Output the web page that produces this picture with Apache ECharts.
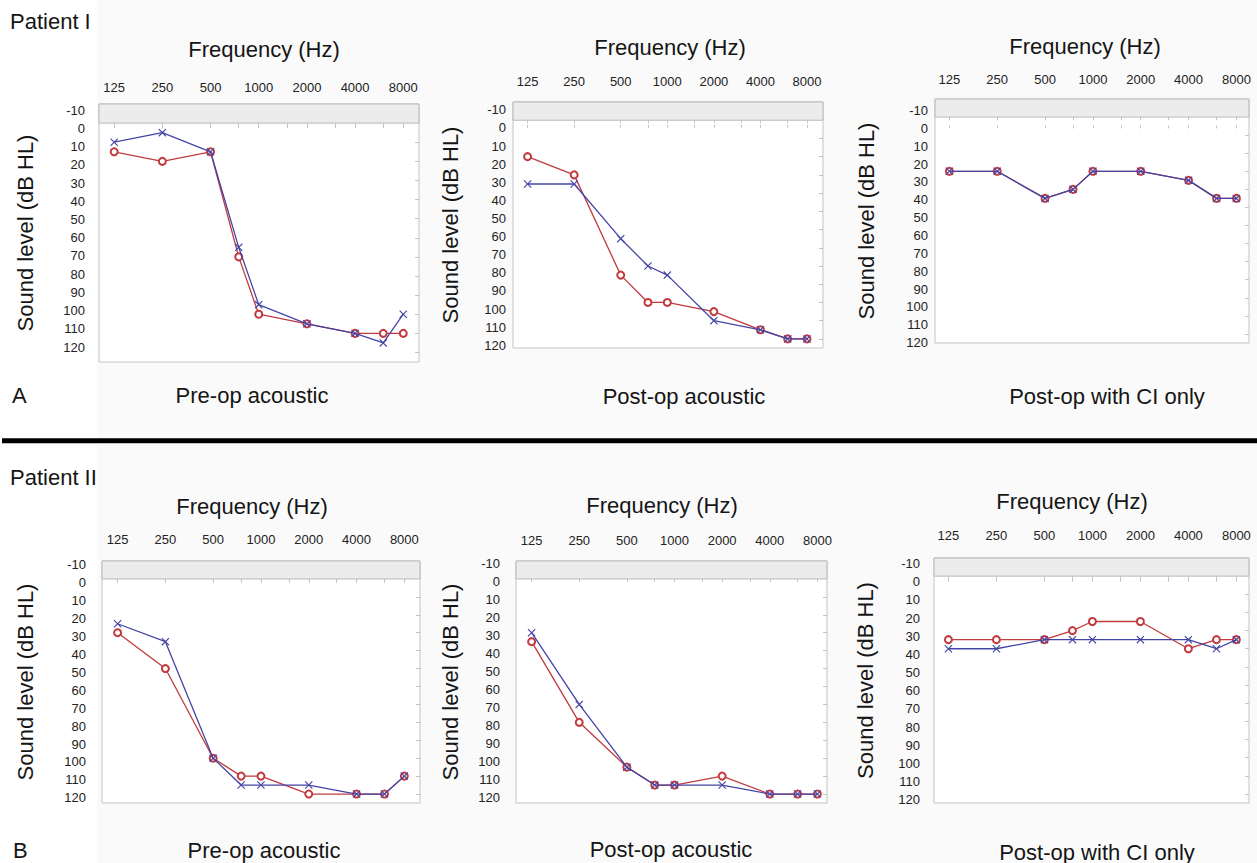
<!DOCTYPE html>
<html>
<head>
<meta charset="utf-8">
<script src="https://cdn.jsdelivr.net/npm/echarts@6/dist/echarts.min.js"></script>
<style>
html,body{margin:0;padding:0;background:#fff;}
#chart{width:1257px;height:863px;}
</style>
</head>
<body>
<div id="chart"></div>
<script>
// ---------- DATA ----------
const frequencies = [125, 250, 500, 750, 1000, 2000, 4000, 6000, 8000];
const frequencyTickLabels = [125, 250, 500, 1000, 2000, 4000, 8000];
const frequencyTickMarks = [125, 250, 500, 750, 1000, 1500, 2000, 3000, 4000, 6000, 8000];
const levelTickLabels = [-10, 0, 10, 20, 30, 40, 50, 60, 70, 80, 90, 100, 110, 120];
const levelTickMarks = [10, 20, 30, 40, 50, 60, 70, 80, 90, 100, 110, 120];
const patientNames = ['Patient I', 'Patient II'];
const rowLetters = ['A', 'B'];
const panelTitles = ['Pre-op acoustic', 'Post-op acoustic', 'Post-op with CI only',
                     'Pre-op acoustic', 'Post-op acoustic', 'Post-op with CI only'];
const xAxisTitle = 'Frequency (Hz)';
const yAxisTitle = 'Sound level (dB HL)';

// Patient I
const p1PreOpRed   = [15, 20, 15, 70, 100, 105, 110, 110, 110];
const p1PreOpBlue  = [10, 5, 15, 65, 95, 105, 110, 115, 100];
const p1PostOpRed  = [20, 30, 85, 100, 100, 105, 115, 120, 120];
const p1PostOpBlue = [35, 35, 65, 80, 85, 110, 115, 120, 120];
const p1CIRed      = [30, 30, 45, 40, 30, 30, 35, 45, 45];
const p1CIBlue     = [30, 30, 45, 40, 30, 30, 35, 45, 45];
// Patient II
const p2PreOpRed   = [30, 50, 100, 110, 110, 120, 120, 120, 110];
const p2PreOpBlue  = [25, 35, 100, 115, 115, 115, 120, 120, 110];
const p2PostOpRed  = [35, 80, 105, 115, 115, 110, 120, 120, 120];
const p2PostOpBlue = [30, 70, 105, 115, 115, 115, 120, 120, 120];
const p2CIRed      = [35, 35, 35, 30, 25, 25, 40, 35, 35];
const p2CIBlue     = [40, 40, 35, 35, 35, 35, 35, 40, 35];

const panelRed  = [p1PreOpRed, p1PostOpRed, p1CIRed, p2PreOpRed, p2PostOpRed, p2CIRed];
const panelBlue = [p1PreOpBlue, p1PostOpBlue, p1CIBlue, p2PreOpBlue, p2PostOpBlue, p2CIBlue];

// ---------- LAYOUT (positions / sizes only) ----------
const layout = [
  {grid:[99,104,320,258],  x:[100.5,10030], lab:[-13.3,128.1], labMargin:14, topMargin:10, nameGap:63, freq:[264,49],   sub:[252,395]},
  {grid:[513,102,310,246], x:[100.6,10150], lab:[-14.3,121.5], labMargin:7,  topMargin:14, nameGap:52, freq:[670,47],   sub:[684,396]},
  {grid:[935,99,314,244],  x:[101.5,9600],  lab:[-16.5,120.2], labMargin:7,  topMargin:13, nameGap:58, freq:[1085,46],  sub:[1107,396]},
  {grid:[102,561,318,242], x:[99.7,10040],  lab:[-12.2,122.9], labMargin:16, topMargin:15, nameGap:66, freq:[252,506],  sub:[264,850]},
  {grid:[516,561,311,242], x:[99.6,9200],   lab:[-11.4,122.8], labMargin:16, topMargin:14, nameGap:55, freq:[662,505],  sub:[671,849]},
  {grid:[934,558,315,245], x:[101.5,9600],  lab:[-13.1,121.8], labMargin:14, topMargin:16, nameGap:58, freq:[1072,501], sub:[1097,852]}
];
const rowLabelPos = [[10,21],[10,477]];
const letterPos = [[12,395],[13,850]];

// ---------- STYLE ----------
const RED = '#c23a3e';
const BLUE = '#4444a6';
const FRAME = '#c4c4c4';
const TEXT = '#151515';
const FONT = '"Liberation Sans", Arial, Helvetica, sans-serif';
const BIG = 22;
const X_PATH = 'path://M1,0L5,4L9,0L10,1L6,5L10,9L9,10L5,6L1,10L0,9L4,5L0,1Z';

const chart = echarts.init(document.getElementById('chart'), null, {renderer:'svg', width:1257, height:863});

const grids = [], xAxes = [], yAxes = [], series = [], titles = [];

function bigTitle(text, x, y, align) {
  return {
    text: text, left: x, top: y, padding: 0,
    textAlign: align || 'center', textVerticalAlign: 'middle',
    textStyle: {fontSize: BIG, fontWeight: 'normal', color: TEXT, fontFamily: FONT}
  };
}

patientNames.forEach((n, r) => titles.push(bigTitle(n, rowLabelPos[r][0], rowLabelPos[r][1], 'left')));
rowLetters.forEach((n, r) => titles.push(bigTitle(n, letterPos[r][0], letterPos[r][1], 'left')));

layout.forEach((L, i) => {
  grids.push({
    left: L.grid[0], top: L.grid[1], width: L.grid[2], height: L.grid[3],
    show: true, backgroundColor: '#ffffff', borderColor: FRAME, borderWidth: 1,
    containLabel: false, outerBoundsMode: 'none'
  });
  const tickCommon = {show: true, inside: true, length: 3, customValues: frequencyTickMarks, lineStyle: {color: FRAME}};
  xAxes.push({
    gridIndex: i, type: 'log', logBase: 2, position: 'top', min: L.x[0], max: L.x[1],
    axisLine: {show: false}, splitLine: {show: false}, axisTick: tickCommon,
    axisLabel: {show: true, customValues: frequencyTickLabels, margin: L.topMargin,
      fontSize: 13, color: '#222', fontFamily: FONT, formatter: v => String(Math.round(v))}
  });
  xAxes.push({
    gridIndex: i, type: 'log', logBase: 2, position: 'bottom', min: L.x[0], max: L.x[1],
    axisLine: {show: false}, splitLine: {show: false}, axisTick: tickCommon,
    axisLabel: {show: false}
  });
  yAxes.push({
    gridIndex: i, type: 'value', inverse: true, position: 'right', min: -10, max: 125,
    axisLine: {show: false}, splitLine: {show: false}, axisLabel: {show: false},
    axisTick: {show: true, inside: true, length: 4, customValues: levelTickMarks, lineStyle: {color: FRAME}}
  });
  yAxes.push({
    gridIndex: i, type: 'value', inverse: true, position: 'left', min: L.lab[0], max: L.lab[1],
    axisLine: {show: false}, splitLine: {show: false}, axisTick: {show: false},
    axisLabel: {customValues: levelTickLabels, margin: L.labMargin, fontSize: 13, color: '#222', fontFamily: FONT},
    name: yAxisTitle, nameLocation: 'middle', nameRotate: 90, nameGap: L.nameGap,
    nameTextStyle: {fontSize: BIG, color: TEXT, fontFamily: FONT}
  });
  series.push({
    type: 'line', xAxisIndex: 2 * i, yAxisIndex: 2 * i, z: 3,
    data: frequencies.map((f, k) => [f, panelRed[i][k]]),
    symbol: 'emptyCircle', symbolSize: 7, showAllSymbol: true,
    lineStyle: {color: RED, width: 1.3},
    itemStyle: {color: RED, borderColor: RED, borderWidth: 1.1},
    emphasis: {disabled: true},
    markArea: {silent: true, itemStyle: {color: '#ececec', borderColor: '#b9b9b9', borderWidth: 1},
      data: [[{yAxis: -10}, {yAxis: 0}]]}
  });
  series.push({
    type: 'line', xAxisIndex: 2 * i, yAxisIndex: 2 * i, z: 4,
    data: frequencies.map((f, k) => [f, panelBlue[i][k]]),
    symbol: X_PATH, symbolSize: 8, showAllSymbol: true,
    lineStyle: {color: BLUE, width: 1.3},
    itemStyle: {color: BLUE, borderWidth: 0},
    emphasis: {disabled: true}
  });
  titles.push(bigTitle(xAxisTitle, L.freq[0], L.freq[1]));
  titles.push(bigTitle(panelTitles[i], L.sub[0], L.sub[1]));
});

chart.setOption({
  animation: false,
  backgroundColor: '#ffffff',
  title: titles,
  graphic: [
    {type: 'rect', z: -10, silent: true, shape: {x: 97, y: 0, width: 1160, height: 438}, style: {fill: '#fafafa'}},
    {type: 'rect', z: -10, silent: true, shape: {x: 97, y: 444, width: 1160, height: 419}, style: {fill: '#fafafa'}},
    {type: 'line', z: 10, silent: true, shape: {x1: 2, y1: 440.8, x2: 1257, y2: 440.8}, style: {stroke: '#000', lineWidth: 5}}
  ],
  grid: grids,
  xAxis: xAxes,
  yAxis: yAxes,
  series: series
});
</script>
</body>
</html>
